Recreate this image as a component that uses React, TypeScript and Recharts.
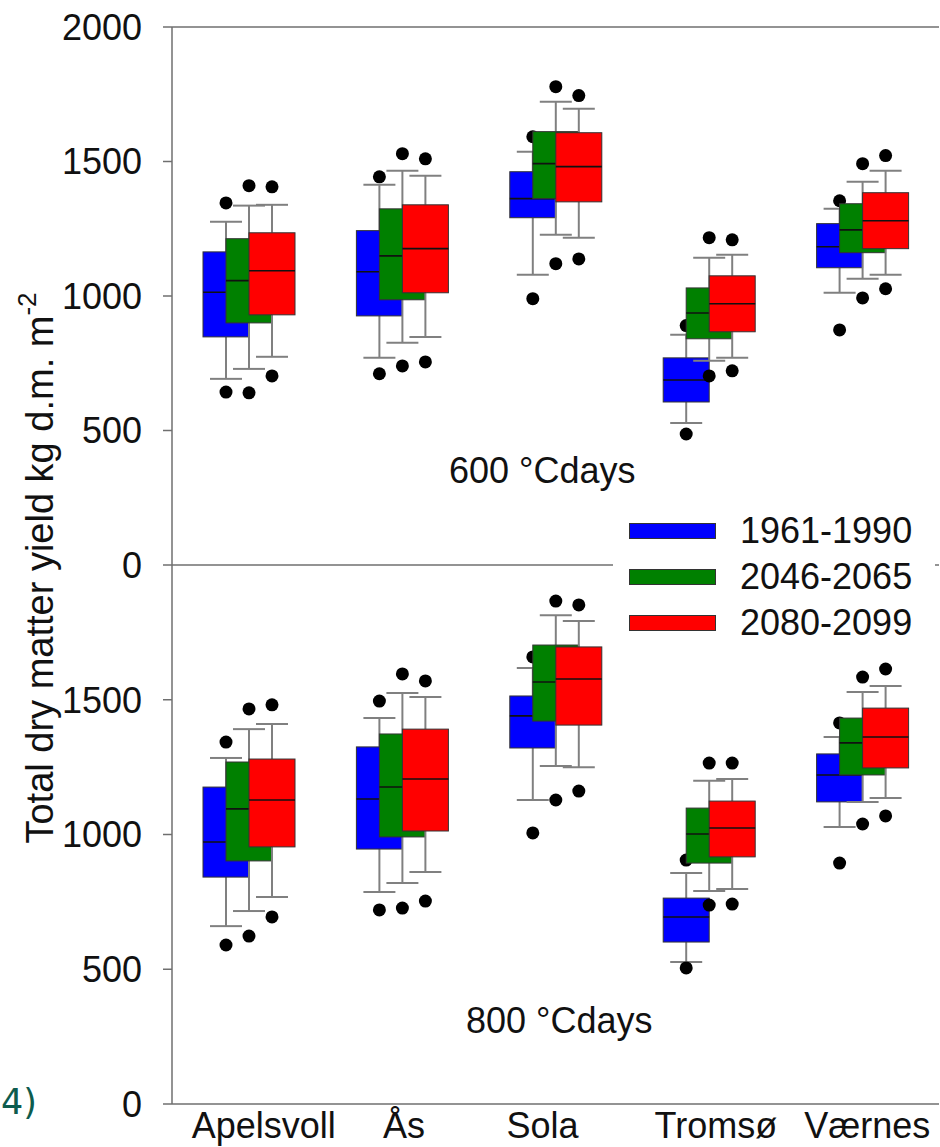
import React from 'react';
import { ComposedChart, Bar, XAxis, YAxis, ReferenceLine, Legend } from 'recharts';

const SITES = ['Apelsvoll', 'Ås', 'Sola', 'Tromsø', 'Værnes'];
const PERIODS = ['1961-1990', '2046-2065', '2080-2099'];
const COLORS = ['#0000ff', '#008000', '#ff0000'];
const TOP_TICKS = [0, 500, 1000, 1500, 2000];
const BOTTOM_TICKS = [0, 500, 1000, 1500];

// per site: [lower whisker, Q1, median, Q3, upper whisker, low outlier, high outlier]
const GDD600_1961 = [
  [692, 848, 1014, 1164, 1276, 643, 1346],
  [770, 926, 1090, 1243, 1414, 711, 1443],
  [1079, 1291, 1362, 1462, 1536, 990, 1592],
  [528, 606, 688, 770, 856, 487, 890],
  [1012, 1105, 1183, 1269, 1324, 874, 1354],
];
const GDD600_2046 = [
  [729, 900, 1057, 1213, 1336, 640, 1410],
  [826, 986, 1149, 1324, 1466, 740, 1529],
  [1228, 1362, 1492, 1611, 1722, 1120, 1778],
  [759, 841, 937, 1030, 1142, 703, 1217],
  [1064, 1161, 1246, 1343, 1425, 993, 1492],
];
const GDD600_2080 = [
  [774, 930, 1094, 1235, 1339, 703, 1406],
  [848, 1012, 1176, 1339, 1447, 755, 1510],
  [1217, 1350, 1481, 1607, 1696, 1138, 1745],
  [770, 867, 971, 1075, 1153, 722, 1209],
  [1079, 1176, 1280, 1384, 1466, 1027, 1522],
];
const GDD800_1961 = [
  [660, 842, 972, 1176, 1284, 590, 1343],
  [787, 946, 1132, 1325, 1432, 720, 1495],
  [1128, 1321, 1440, 1514, 1618, 1006, 1659],
  [527, 601, 694, 764, 857, 505, 905],
  [1028, 1121, 1221, 1299, 1362, 894, 1414],
];
const GDD800_2046 = [
  [716, 902, 1095, 1269, 1391, 623, 1466],
  [820, 991, 1176, 1373, 1525, 727, 1596],
  [1254, 1421, 1566, 1703, 1814, 1128, 1866],
  [790, 894, 1002, 1098, 1199, 738, 1265],
  [1121, 1221, 1340, 1432, 1529, 1039, 1584],
];
const GDD800_2080 = [
  [768, 954, 1128, 1280, 1410, 694, 1481],
  [861, 1013, 1206, 1391, 1510, 753, 1570],
  [1250, 1406, 1577, 1696, 1792, 1161, 1852],
  [798, 917, 1024, 1124, 1206, 742, 1265],
  [1135, 1247, 1362, 1469, 1551, 1069, 1614],
];

const FONT = '"Liberation Sans", Arial, sans-serif';
const AXIS = '#6f6f6f';
const WHISKER = '#808080';
// small nudges of the site labels, as in the original figure
const LABEL_DX = [15, 2, -13, 7, 5];

function buildRows(series: number[][][]) {
  return SITES.map((site, i) => {
    const row: any = { site };
    series.forEach((s, k) => {
      const [lo, q1, med, q3, hi, outLo, outHi] = s[i];
      row[`p${k}`] = [q1, q3];
      row[`st${k}`] = { lo, q1, med, q3, hi, outLo, outHi };
    });
    return row;
  });
}

const rows600 = buildRows([GDD600_1961, GDD600_2046, GDD600_2080]);
const rows800 = buildRows([GDD800_1961, GDD800_2046, GDD800_2080]);

const boxShape = (k: number, color: string) => (props: any) => {
  const { x, y, width, height, payload } = props;
  const st = payload[`st${k}`];
  const top = Math.min(y, y + height);
  const h = Math.abs(height);
  const perUnit = h / (st.q3 - st.q1);
  const toY = (v: number) => top + (st.q3 - v) * perUnit;
  const cx = x + width / 2;
  const cap = 16;
  return (
    <g>
      <line x1={cx} x2={cx} y1={toY(st.hi)} y2={top} stroke={WHISKER} strokeWidth={2} />
      <line x1={cx - cap} x2={cx + cap} y1={toY(st.hi)} y2={toY(st.hi)} stroke={WHISKER} strokeWidth={2} />
      <line x1={cx} x2={cx} y1={top + h} y2={toY(st.lo)} stroke={WHISKER} strokeWidth={2} />
      <line x1={cx - cap} x2={cx + cap} y1={toY(st.lo)} y2={toY(st.lo)} stroke={WHISKER} strokeWidth={2} />
      <rect x={x} y={top} width={width} height={h} fill={color} stroke="#333" strokeWidth={1} />
      <line x1={x} x2={x + width} y1={toY(st.med)} y2={toY(st.med)} stroke="#111" strokeWidth={1.6} />
      <circle cx={cx} cy={toY(st.outHi)} r={6.5} fill="#000" />
      <circle cx={cx} cy={toY(st.outLo)} r={6.5} fill="#000" />
    </g>
  );
};

const SiteTick = (props: any) => {
  const { x, y, payload, index } = props;
  return (
    <text x={x + (LABEL_DX[index] || 0)} y={y} dy="0.71em" textAnchor="middle" fontSize={36} fill="#111" fontFamily={FONT}>
      {payload.value}
    </text>
  );
};

const renderLegend = (props: any) => (
  <div style={{ background: '#fff', padding: '8px 0 0 16px', width: 322, height: 146, boxSizing: 'border-box', fontFamily: FONT }}>
    {(props.payload || []).map((entry: any) => (
      <div key={entry.value} style={{ display: 'flex', alignItems: 'center', height: 46 }}>
        <span style={{ display: 'inline-block', width: 87, height: 16, background: entry.color, border: '1px solid #333', boxSizing: 'border-box' }} />
        <span style={{ marginLeft: 24, fontSize: 36, color: '#111', lineHeight: '46px' }}>{entry.value}</span>
      </div>
    ))}
  </div>
);

const yTick = { fontSize: 36, fill: '#111', fontFamily: FONT };

function series() {
  return PERIODS.map((p, k) => (
    <Bar
      key={p}
      yAxisId="l"
      dataKey={`p${k}`}
      name={p}
      fill={COLORS[k]}
      shape={boxShape(k, COLORS[k])}
      isAnimationActive={false}
    />
  ));
}

export default function App() {
  return (
    <div style={{ position: 'absolute', left: 0, top: 0, width: 940, height: 1147, background: '#fff', overflow: 'hidden' }}>
      <div style={{ position: 'absolute', left: 0, top: 0 }}>
        <ComposedChart width={940} height={600} data={rows600} margin={{ top: 27, right: 1, bottom: 35, left: 0 }} barSize={46} barGap={-23}>
          <XAxis dataKey="site" hide />
          <YAxis
            yAxisId="l"
            domain={[0, 2000]}
            ticks={TOP_TICKS}
            interval={0}
            width={172}
            tickSize={9}
            tickMargin={21}
            axisLine={{ stroke: AXIS, strokeWidth: 1.5 }}
            tickLine={{ stroke: AXIS, strokeWidth: 1.5 }}
            tick={yTick}
            allowDataOverflow
          />
          <YAxis yAxisId="r" orientation="right" domain={[0, 2000]} width={0} tick={false} tickLine={false} axisLine={{ stroke: AXIS, strokeWidth: 1.5 }} />
          <ReferenceLine yAxisId="l" y={2000} stroke={AXIS} strokeWidth={1.5} />
          <ReferenceLine yAxisId="l" y={0} stroke={AXIS} strokeWidth={1.5} />
          {series()}
          <Legend
            layout="vertical"
            align="center"
            verticalAlign="middle"
            content={renderLegend}
            wrapperStyle={{ left: 613, top: 500, width: 322, height: 146, zIndex: 10 }}
          />
        </ComposedChart>
      </div>
      <div style={{ position: 'absolute', left: 0, top: 565 }}>
        <ComposedChart width={940} height={582} data={rows800} margin={{ top: 0, right: 1, bottom: 0, left: 0 }} barSize={46} barGap={-23}>
          <XAxis
            dataKey="site"
            height={43}
            interval={0}
            tickLine={false}
            tickSize={0}
            tickMargin={8}
            axisLine={{ stroke: AXIS, strokeWidth: 1.5 }}
            tick={<SiteTick />}
          />
          <YAxis
            yAxisId="l"
            domain={[0, 2000]}
            ticks={BOTTOM_TICKS}
            interval={0}
            width={172}
            tickSize={9}
            tickMargin={21}
            axisLine={{ stroke: AXIS, strokeWidth: 1.5 }}
            tickLine={{ stroke: AXIS, strokeWidth: 1.5 }}
            tick={yTick}
            allowDataOverflow
          />
          <YAxis yAxisId="r" orientation="right" domain={[0, 2000]} width={0} tick={false} tickLine={false} axisLine={{ stroke: AXIS, strokeWidth: 1.5 }} />
          {series()}
        </ComposedChart>
      </div>
      <svg width={940} height={1147} style={{ position: 'absolute', left: 0, top: 0, pointerEvents: 'none' }}>
        <text x={449} y={483} fontSize={36} fill="#111" fontFamily={FONT}>600 °Cdays</text>
        <text x={466} y={1033} fontSize={36} fill="#111" fontFamily={FONT}>800 °Cdays</text>
        <text transform="rotate(-90, 53, 568)" x={53} y={568} textAnchor="middle" fontSize={38} fill="#111" fontFamily={FONT}>
          Total dry matter yield kg d.m. m<tspan fontSize={26} dy={-17}>-2</tspan>
        </text>
        <text x={37} y={1114} textAnchor="end" fontSize={35} fill="#0d5c4e" fontFamily="DejaVu Sans, sans-serif">4)</text>
      </svg>
    </div>
  );
}
